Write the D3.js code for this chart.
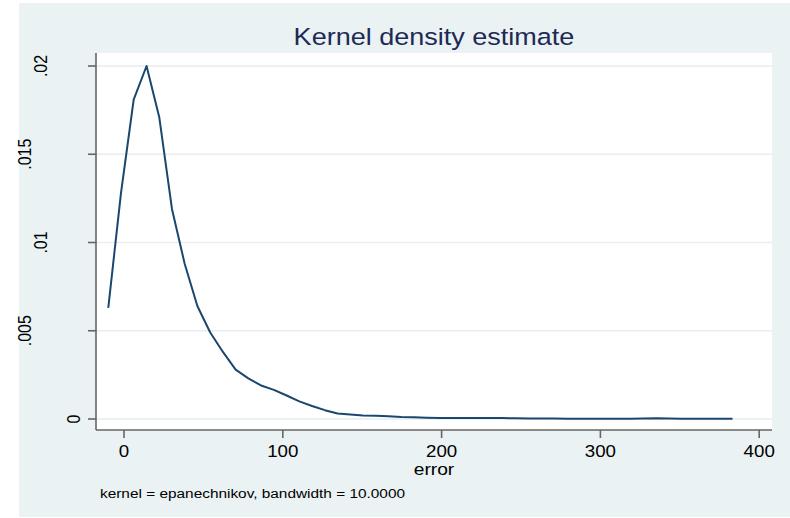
<!DOCTYPE html>
<html>
<head>
<meta charset="utf-8">
<script src="https://cdn.jsdelivr.net/npm/d3@7"></script>
<style>
  body { margin: 0; background: #ffffff; }
  svg text { font-family: "Liberation Sans", Arial, sans-serif; }
</style>
</head>
<body>
<div id="chart"></div>
<script>
// kdensity evaluation points (error) and estimated density
const xPoints = [-9.9, -1.9, 6.1, 14.2, 22.2, 30.2, 38.2, 46.2, 54.3, 62.3,
    70.3, 78.3, 86.3, 94.4, 102.4, 110.4, 118.4, 126.5, 134.5, 142.5,
    150.5, 158.6, 166.6, 174.6, 182.6, 190.7, 198.7, 206.7, 214.7, 222.8,
    230.8, 238.8, 246.8, 254.9, 262.9, 270.9, 278.9, 287.0, 295.0, 303.0,
    311.0, 319.1, 327.1, 335.1, 343.1, 351.2, 359.2, 367.2, 375.2, 383.2];
const density = [0.0063, 0.0128, 0.0181, 0.0200, 0.0171, 0.0119, 0.0088, 0.0064, 0.0049, 0.0038,
    0.0028, 0.0023, 0.0019, 0.00165, 0.00133, 0.0010, 0.00074, 0.00050, 0.00031, 0.00025,
    0.00020, 0.00018, 0.00016, 0.00012, 0.00010, 0.00007, 0.00005, 0.00006, 0.00006, 0.00006,
    0.00005, 0.00005, 0.00004, 0.00003, 0.00003, 0.00003, 0.00002, 0.00001, 0.00001, 0.00001,
    0.00001, 0.00002, 0.00003, 0.00004, 0.00003, 0.00002, 0.00001, 0.00001, 0.00001, 0.00001];

const xTicks = [0, 100, 200, 300, 400];
const yTicks = [0, 0.005, 0.01, 0.015, 0.02];
const yTickLabels = ['0', '.005', '.01', '.015', '.02'];

const titleText = 'Kernel density estimate';
const xTitle = 'error';
const noteText = 'kernel = epanechnikov, bandwidth = 10.0000';

const width = 790, height = 518;
const plot = { left: 96, right: 772, top: 53, bottom: 430 };
const sx = 1.17; // picture is stretched a little horizontally

const svg = d3.select('#chart').append('svg')
    .attr('width', width)
    .attr('height', height);

// graph region
svg.append('rect')
    .attr('x', 19).attr('y', 3)
    .attr('width', width - 19).attr('height', 514)
    .attr('fill', '#eaf2f3');

// plot region
svg.append('rect')
    .attr('x', plot.left).attr('y', plot.top)
    .attr('width', plot.right - plot.left).attr('height', plot.bottom - plot.top)
    .attr('fill', '#ffffff');

const x = d3.scaleLinear().domain([0, 400]).range([124, 759.2]);
const y = d3.scaleLinear().domain([0, 0.02]).range([419, 66]);

// grid lines
svg.append('g').selectAll('line')
    .data(yTicks)
    .enter().append('line')
    .attr('x1', plot.left).attr('x2', plot.right)
    .attr('y1', d => y(d)).attr('y2', d => y(d))
    .attr('stroke', '#e6eef1')
    .attr('stroke-width', 1.5);

// density line
const line = d3.line()
    .x((d, i) => x(xPoints[i]))
    .y(d => y(d));

svg.append('path')
    .datum(density)
    .attr('d', line)
    .attr('fill', 'none')
    .attr('stroke', '#1a476f')
    .attr('stroke-width', 2)
    .attr('stroke-linejoin', 'round');

// y axis
const yAxis = svg.append('g');
yAxis.append('line')
    .attr('x1', plot.left).attr('x2', plot.left)
    .attr('y1', plot.top).attr('y2', plot.bottom)
    .attr('stroke', '#666666').attr('stroke-width', 1.6);
yAxis.selectAll('.tick')
    .data(yTicks)
    .enter().append('line')
    .attr('x1', plot.left - 8).attr('x2', plot.left)
    .attr('y1', d => y(d)).attr('y2', d => y(d))
    .attr('stroke', '#666666').attr('stroke-width', 1.6);
yAxis.selectAll('text')
    .data(yTicks)
    .enter().append('text')
    .attr('transform', (d, i) => {
        const lab = yTickLabels[i];
        const cx = plot.left - 22 - (lab.length - 1) * 16.5;
        return 'translate(' + cx + ',' + y(d) + ') scale(' + sx + ',1) rotate(-90)';
    })
    .attr('text-anchor', 'middle')
    .attr('dominant-baseline', 'central')
    .style('font-size', '16px')
    .attr('fill', '#000000')
    .text((d, i) => yTickLabels[i]);

// x axis
const xAxis = svg.append('g');
xAxis.append('line')
    .attr('x1', plot.left).attr('x2', plot.right)
    .attr('y1', plot.bottom).attr('y2', plot.bottom)
    .attr('stroke', '#666666').attr('stroke-width', 1.6);
xAxis.selectAll('.tick')
    .data(xTicks)
    .enter().append('line')
    .attr('x1', d => x(d)).attr('x2', d => x(d))
    .attr('y1', plot.bottom).attr('y2', plot.bottom + 8)
    .attr('stroke', '#666666').attr('stroke-width', 1.6);
xAxis.selectAll('text')
    .data(xTicks)
    .enter().append('text')
    .attr('transform', d => 'translate(' + x(d) + ',457) scale(' + sx + ',1)')
    .attr('text-anchor', 'middle')
    .style('font-size', '16px')
    .attr('fill', '#000000')
    .text(d => d);

// axis title
svg.append('text')
    .attr('transform', 'translate(434,475) scale(1.2,1)')
    .attr('text-anchor', 'middle')
    .style('font-size', '16px')
    .attr('fill', '#000000')
    .text(xTitle);

// title
svg.append('text')
    .attr('transform', 'translate(434,45) scale(1.15,1)')
    .attr('text-anchor', 'middle')
    .style('font-size', '23.5px')
    .attr('fill', '#1e2a55')
    .text(titleText);

// note
svg.append('text')
    .attr('transform', 'translate(100,497.5) scale(1.14,1)')
    .style('font-size', '13.5px')
    .attr('fill', '#000000')
    .text(noteText);
</script>
</body>
</html>
